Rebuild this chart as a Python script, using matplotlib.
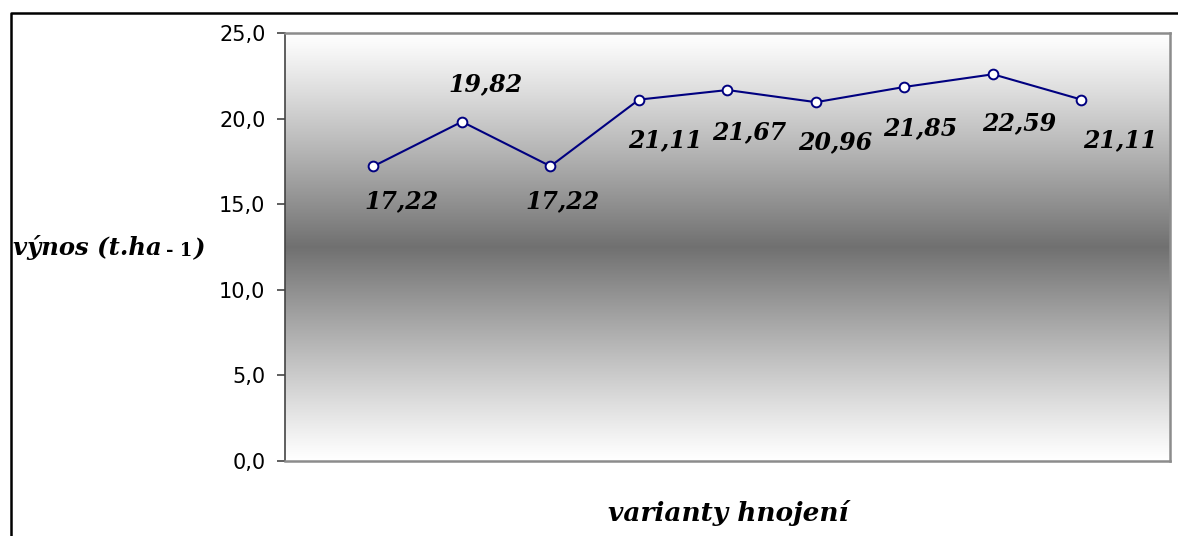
import numpy as np
import matplotlib
matplotlib.use("Agg")
import matplotlib.pyplot as plt
from matplotlib.lines import Line2D

# data
variants = [1, 2, 3, 4, 5, 6, 7, 8, 9]
yields = [17.22, 19.82, 17.22, 21.11, 21.67, 20.96, 21.85, 22.59, 21.11]
y_ticks = [0, 5, 10, 15, 20, 25]

# label offsets (points) for the data labels
label_dx = [20, 17, 9, 19, 16, 14, 11, 19, 28]
label_dy = [-25, 27, -25, -29, -30, -29, -30, -35, -29]

SERIF = ["DejaVu Serif"]

fig = plt.figure(figsize=(11.78, 5.36), dpi=100)
ax = fig.add_axes([0.2419, 0.1399, 0.7513, 0.7985])

ax.set_xlim(0, 10)
ax.set_ylim(0, 25)

# vertical gradient: white at edges, dark grey in the middle
t = np.linspace(0, 1, 256)
g = 1 - 0.56 * np.clip(1 - np.abs(t - 0.5) / 0.5, 0, 1) ** 1.1
grad = np.dstack([g, g, g])[0][:, None, :].repeat(2, axis=1)
ax.imshow(grad, extent=[0, 10, 0, 25], aspect="auto", origin="lower",
          interpolation="bilinear", zorder=0)

ax.plot(variants, yields, color="#000080", linewidth=1.5,
        marker="o", markersize=7, markerfacecolor="white",
        markeredgecolor="#000080", markeredgewidth=1.4, zorder=3)

for x, y, dx, dy in zip(variants, yields, label_dx, label_dy):
    ax.annotate(f"{y:.2f}".replace(".", ","), (x, y), xytext=(dx, dy),
                textcoords="offset points", ha="center", va="center",
                fontsize=17, family=SERIF, fontweight="bold",
                fontstyle="italic", color="black", zorder=4)

ax.set_xticks([])
ax.set_yticks(y_ticks)
ax.set_yticklabels([f"{v:.1f}".replace(".", ",") for v in y_ticks],
                   family="DejaVu Sans", fontsize=15)
ax.tick_params(axis="y", direction="out", length=6, width=1.2,
               color="#444444", pad=8)
for side in ["top", "right", "bottom"]:
    ax.spines[side].set_color("#8c8c8c")
    ax.spines[side].set_linewidth(1.8)
ax.spines["left"].set_color("#444444")
ax.spines["left"].set_linewidth(1.2)

# axis titles
t1 = fig.text(13 / 1178, 1 - 255 / 536, "výnos (t.ha", family=SERIF,
              fontsize=17.5, fontweight="bold", fontstyle="italic",
              ha="left", va="baseline")
t2 = plt.annotate("- 1", xy=(1, 0), xycoords=t1, xytext=(3, 0),
                  textcoords="offset points", family=SERIF, fontsize=13,
                  fontweight="bold", ha="left", va="bottom",
                  annotation_clip=False)
plt.annotate(")", xy=(1, 0), xycoords=t2, xytext=(1, -1),
             textcoords="offset points", family=SERIF, fontsize=17.5,
             fontweight="bold", fontstyle="italic", ha="left", va="bottom",
             annotation_clip=False)
fig.text(728 / 1178, 1 - 513 / 536, "varianty hnojení", family=SERIF,
         fontsize=19, fontweight="bold", fontstyle="italic",
         ha="center", va="center")

# outer frame (top and left edges)
fig.add_artist(Line2D([10.5 / 1178, 10.5 / 1178, 1.0],
                      [0.0, 1 - 13 / 536, 1 - 13 / 536],
                      transform=fig.transFigure, color="black", linewidth=1.8))

fig.savefig("out.png", dpi=100)
